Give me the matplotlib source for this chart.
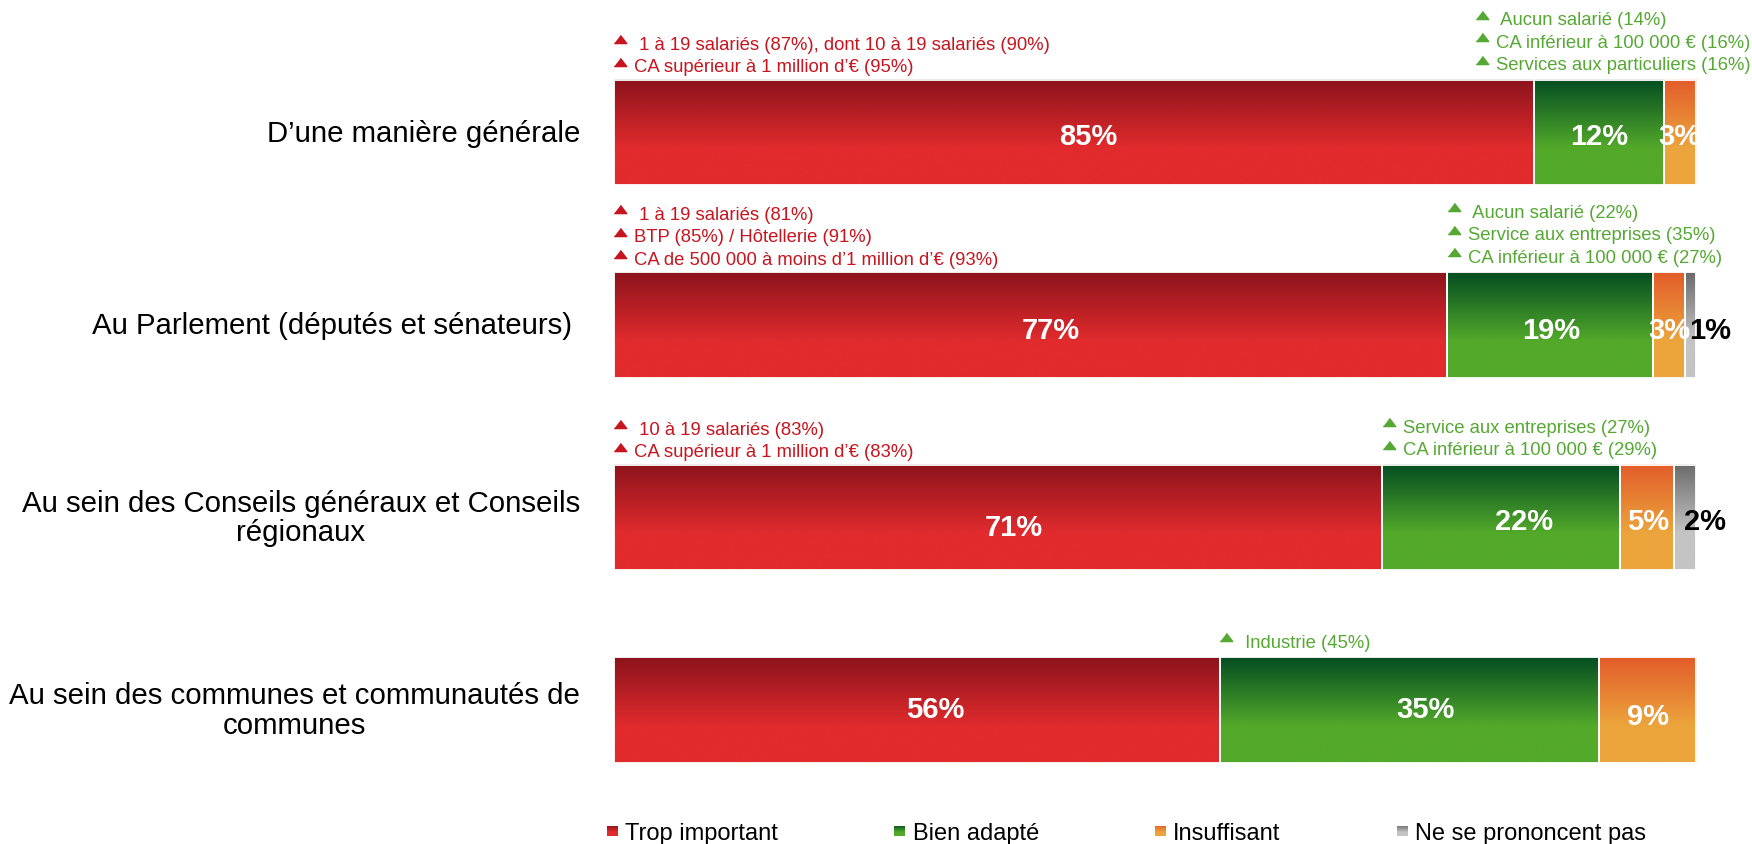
import matplotlib
matplotlib.use("Agg")
import matplotlib.pyplot as plt
import numpy as np
from matplotlib.colors import LinearSegmentedColormap
from matplotlib.patches import Rectangle

plt.rcParams['font.family'] = ['Liberation Sans', 'DejaVu Sans']

categories = [
    "D’une manière générale",
    "Au Parlement (députés et sénateurs) ",
    "Au sein des Conseils généraux et Conseils\nrégionaux",
    "Au sein des communes et communautés de\ncommunes",
]
series_names = ["Trop important", "Bien adapté", "Insuffisant", "Ne se prononcent pas"]
trop_important = [85, 77, 71, 56]
bien_adapte = [12, 19, 22, 35]
insuffisant = [3, 3, 5, 9]
ne_se_prononcent_pas = [0, 1, 2, 0]

red_notes = [
    [" 1 à 19 salariés (87%), dont 10 à 19 salariés (90%)",
     "CA supérieur à 1 million d’€ (95%)"],
    [" 1 à 19 salariés (81%)",
     "BTP (85%) / Hôtellerie (91%)",
     "CA de 500 000 à moins d’1 million d’€ (93%)"],
    [" 10 à 19 salariés (83%)",
     "CA supérieur à 1 million d’€ (83%)"],
    [],
]
green_notes = [
    [" Aucun salarié (14%)",
     "CA inférieur à 100 000 € (16%)",
     "Services aux particuliers (16%)"],
    [" Aucun salarié (22%)",
     "Service aux entreprises (35%)",
     "CA inférieur à 100 000 € (27%)"],
    ["Service aux entreprises (27%)",
     "CA inférieur à 100 000 € (29%)"],
    [" Industrie (45%)"],
]

series = [trop_important, bien_adapte, insuffisant, ne_se_prononcent_pas]

# top / bottom colours of each series gradient
shades = [
    ("#8c131c", "#e12b2d"),
    ("#044d22", "#53a92a"),
    ("#e25c2a", "#eca53c"),
    ("#6b6b6b", "#c4c4c4"),
]
label_colors = ["white", "white", "white", "black"]
RED_TXT = "#c8141e"
GREEN_TXT = "#56a834"

# hand placement of the value labels (pixels right / down)
label_nudge = [
    [(15, 3), (1, 3), (0, 3), (0, 0)],
    [(21, 5), (1, 5), (0, 5), (0, 5)],
    [(16, 9), (23, 3), (1, 3), (0, 3)],
    [(19, -1), (16, -1), (1, 6), (0, 0)],
]

cmaps = [LinearSegmentedColormap.from_list("g%d" % k, [(0, a), (0.65, b), (1, b)])
         for k, (a, b) in enumerate(shades)]
grad = np.linspace(0, 1, 256).reshape(-1, 1)

W, H = 1752, 845
X0, Y0 = 613.5, 133.5       # pixel position of 0% and of the first bar centre
PX_X, PX_Y = 10.825, 192.5  # pixels per percent / per bar


def dx(px):
    return px / PX_X


def dy(px):
    return px / PX_Y


fig = plt.figure(figsize=(W / 100, H / 100), dpi=100)
ax = fig.add_axes([0, 0, 1, 1])
bar_h = 0.55

for i in range(len(categories)):
    left = 0
    for j, vals in enumerate(series):
        v = vals[i]
        if v == 0:
            continue
        top, bottom = i - bar_h / 2, i + bar_h / 2
        ax.imshow(grad, cmap=cmaps[j], extent=(left, left + v, bottom, top),
                  origin='upper', aspect='auto', interpolation='bilinear', zorder=2)
        ax.add_patch(Rectangle((left, top), v, bar_h, fill=False,
                               edgecolor='white', linewidth=1.3, zorder=3))
        nx, ny = label_nudge[i][j]
        xc = left + v / 2 + dx(nx)
        if j == 3:
            xc += dx(20)
        ax.text(xc, i + dy(ny), f"{v}%", ha='center', va='center', fontsize=21,
                fontweight='bold', color=label_colors[j], zorder=4)
        left += v

    ax.text(dx(580 - X0), i, categories[i], ha='right', va='center',
            multialignment='center', fontsize=21.2, linespacing=1.05)

tri = [(-1, -0.65), (1, -0.65), (0, 0.65)]


def draw_notes(lines, x_anchor, i, color, lift):
    arts = []
    n = len(lines)
    top = i - bar_h / 2
    for k, line in enumerate(lines):
        base = top - dy(lift) - dy(22.3) * (n - 1 - k)
        m, = ax.plot([x_anchor + dx(6.5)], [base - dy(9.5)], marker=tri,
                     markersize=9, color=color, linestyle='none', zorder=5)
        t = ax.text(x_anchor + dx(20.5), base, line, ha='left', va='baseline',
                    fontsize=13.3, color=color, zorder=5)
        arts.append((m, t))
    return arts


green_blocks = []
for i in range(len(categories)):
    draw_notes(red_notes[i], 0, i, RED_TXT, 8.5)
    green_blocks.append(draw_notes(green_notes[i], trop_important[i], i, GREEN_TXT, 10.5))

ax.set_xlim(-X0 / PX_X, (W - X0) / PX_X)
ax.set_ylim((H - Y0) / PX_Y, -Y0 / PX_Y)
ax.axis('off')

# keep the green notes inside the figure
renderer = fig.canvas.get_renderer()
for block in green_blocks:
    if not block:
        continue
    right = max(t.get_window_extent(renderer).x1 for _, t in block)
    if right > W - 1:
        shift = dx(right - (W - 1))
        for m, t in block:
            t.set_x(t.get_position()[0] - shift)
            m.set_xdata([m.get_xdata()[0] - shift])

# legend
key_x = 606.7
for j, name in enumerate(series_names):
    kax = fig.add_axes([key_x / W, (H - 837.5) / H, 11 / W, 11 / H])
    kax.imshow(grad, cmap=cmaps[j], aspect='auto', interpolation='bilinear')
    kax.axis('off')
    t = fig.text((key_x + 18.5) / W, (H - 840) / H, name, fontsize=17,
                 ha='left', va='baseline')
    key_x = t.get_window_extent(renderer).x1 + 116

fig.savefig("out.png", dpi=100)
